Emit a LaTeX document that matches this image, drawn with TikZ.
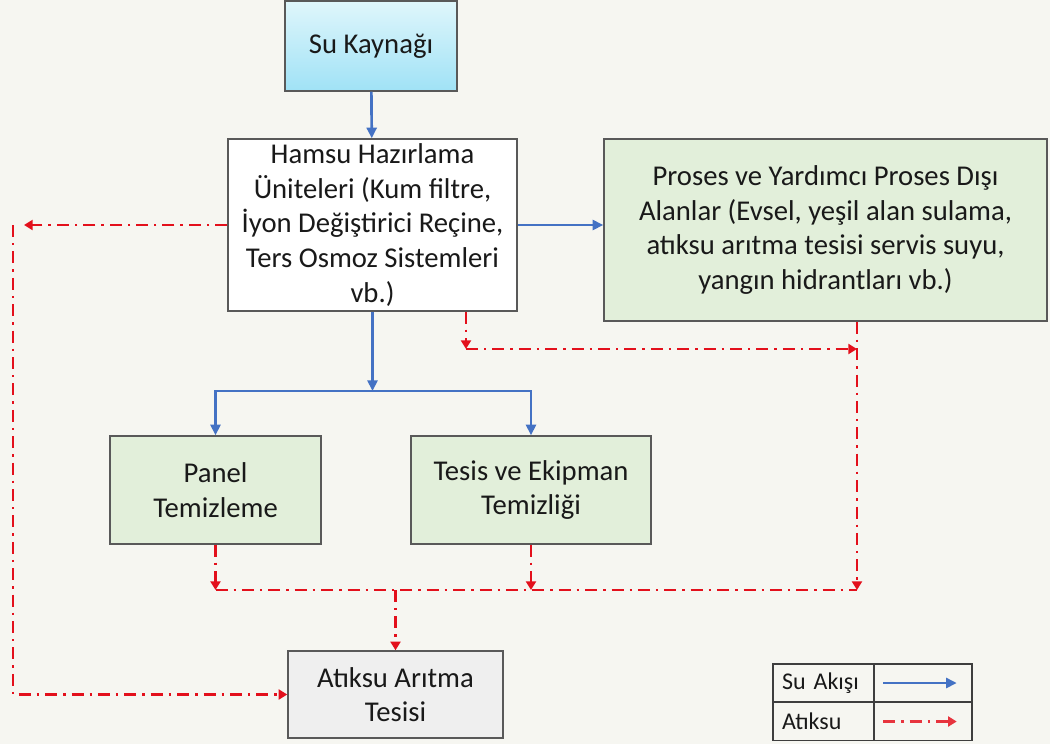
\documentclass[tikz,border=0pt]{standalone}
\usepackage{fontspec}
\setmainfont{Carlito}
\usetikzlibrary{arrows.meta}
\definecolor{zemin}{HTML}{F6F6F1}
\definecolor{yesil}{HTML}{E2EFDA}
\definecolor{gri}{HTML}{EFEFEF}
\definecolor{kenar}{HTML}{595959}
\definecolor{mavi}{HTML}{4472C4}
\definecolor{kirmizi}{HTML}{E3101C}
\definecolor{acikmavi}{HTML}{DFF6FB}
\definecolor{koyumavi}{HTML}{A0E2F6}

\begin{document}
\begin{tikzpicture}[x=0.75pt,y=0.75pt,yscale=-1,
  kutu/.style={draw=kenar,line width=1.1pt,align=center,inner sep=2pt,font=\fontsize{21.5}{26}\selectfont,text=black!90},
  hucre/.style={draw=kenar!70!black,line width=1.1pt,inner xsep=6.75pt,inner ysep=0pt,text width=62.25pt,align=left,minimum height=28.5pt,font=\fontsize{18}{21}\selectfont,text=black!90},
  akis/.style={mavi,line width=2pt,-{Triangle[width=7.5pt,length=8pt]}},
  atik/.style={kirmizi,line width=1.9pt,dash pattern=on 9pt off 4.5pt on 1.8pt off 4.5pt,-{Triangle[width=7.5pt,length=6.5pt]}}]
% Background
\fill[zemin] (0,0) rectangle (1050,744);

% Boxes
\draw (371,46) node [kutu,top color=acikmavi,bottom color=koyumavi,minimum width=129pt,minimum height=67.5pt] (kaynak) {Su Kaynağı};

\draw (372.5,225) node [kutu,fill=white,minimum width=216.75pt,minimum height=129pt] (hamsu) {Hamsu Hazırlama\\Üniteleri (Kum filtre,\\İyon Değiştirici Reçine,\\Ters Osmoz Sistemleri\\vb.)};

\draw (825.5,230) node [kutu,fill=yesil,minimum width=332.25pt,minimum height=136.5pt] (proses) {Proses ve Yardımcı Proses Dışı\\Alanlar (Evsel, yeşil alan sulama,\\atıksu arıtma tesisi servis suyu,\\yangın hidrantları vb.)};

\draw (215.5,490) node [kutu,fill=yesil,minimum width=158.25pt,minimum height=81pt] (panel) {Panel\\Temizleme};

\draw (531,490) node [kutu,fill=yesil,minimum width=180pt,minimum height=81pt] (tesis) {Tesis ve Ekipman\\Temizliği};

\draw (395.5,694.5) node [kutu,fill=gri,minimum width=161.25pt,minimum height=65.25pt] (aritma) {Atıksu Arıtma\\Tesisi};

% Water flow
\coordinate (dal) at (372.5,391);
\draw[akis] (kaynak) -- (hamsu);
\draw[akis] (hamsu.east) -- (hamsu.east -| proses.west);
\draw[akis] (hamsu) -- (dal);
\draw[akis] (dal) -| (panel);
\draw[akis] (dal) -| (tesis);

% Waste water
\coordinate (solUc) at (24,225);
\coordinate (solKose) at (13,225);
\coordinate (hamsuAlt) at (466,349);
\coordinate (prosesAlt) at (857,349);
\coordinate (toplam) at (857,590);
\coordinate (panelAlt) at (215.5,590);
\coordinate (tesisAlt) at (531,590);
\coordinate (orta) at (395.5,590);
\draw[atik] (hamsu.west) -- (solUc);
\draw[atik] (solKose) |- (aritma);
\draw[atik] (hamsu.south -| hamsuAlt) -- (hamsuAlt);
\draw[atik] (hamsuAlt) -- (prosesAlt);
\draw[atik] (proses.south -| toplam) -- (toplam);
\draw[atik] (panel) -- (panelAlt);
\draw[atik] (tesis) -- (tesisAlt);
\draw[atik,-] (panelAlt) -- (toplam);
\draw[atik] (orta) -- (aritma);

% Legend
\draw (823.5,683) node [hucre] (lgSu) {Su Akışı};
\draw (923,683) node [hucre,text width=60pt] (lgMavi) {};
\draw (823.5,721.5) node [hucre] (lgAtik) {Atıksu};
\draw (923,721.5) node [hucre,text width=60pt] (lgKirmizi) {};
\draw[akis] ([xshift=7.5pt]lgMavi.west) -- ([xshift=-12pt]lgMavi.east);
\draw[atik,kirmizi!85] ([xshift=7.5pt]lgKirmizi.west) -- ([xshift=-12pt]lgKirmizi.east);

\end{tikzpicture}
\end{document}
